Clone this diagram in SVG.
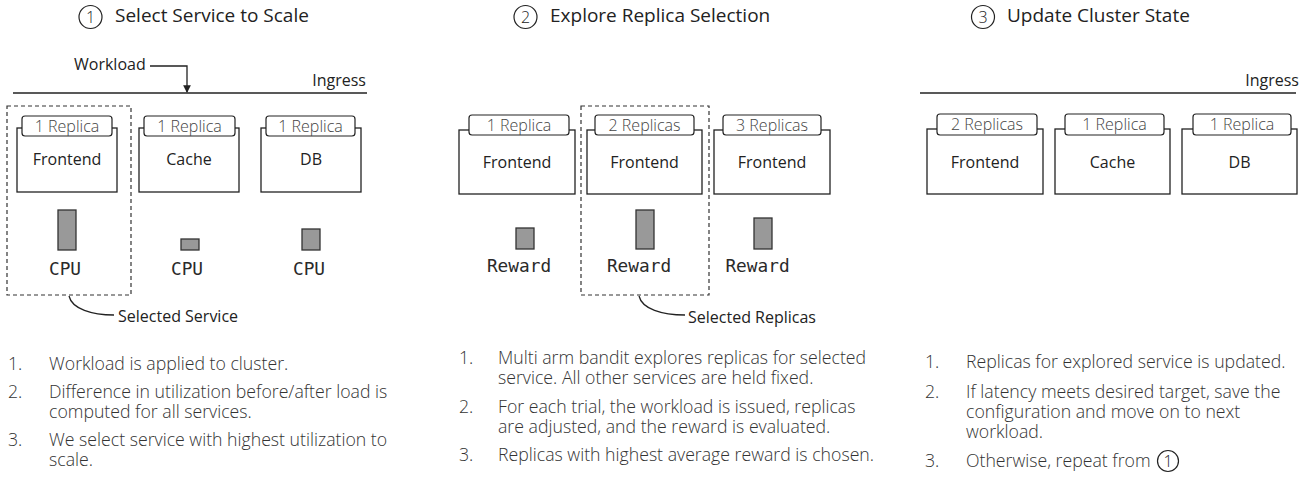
<svg xmlns="http://www.w3.org/2000/svg" width="1310" height="477" viewBox="0 0 1310 477">
<style>
.title{font-family:"Open Sans","Liberation Sans",sans-serif;font-size:19px;fill:#222}
.num{font-family:"Open Sans","Liberation Sans",sans-serif;font-size:16px;font-weight:300;fill:#222;text-anchor:middle}
.circ{fill:none;stroke:#222;stroke-width:1.2}
.body{fill:#fff;stroke:#222;stroke-width:1.3}
.tab{fill:#fff;stroke:#222;stroke-width:1.2}
.tabt{font-family:"Open Sans","Liberation Sans",sans-serif;font-size:16px;font-weight:300;fill:#444;text-anchor:middle}
.name{font-family:"Open Sans","Liberation Sans",sans-serif;font-size:16px;fill:#222;text-anchor:middle}
.bar{fill:#999;stroke:#333;stroke-width:1.3}
.mono{font-family:"DejaVu Sans Mono","Liberation Mono",monospace;font-size:17.8px;fill:#2a2a2a;text-anchor:middle}
.lbl{font-family:"Open Sans","Liberation Sans",sans-serif;font-size:16px;fill:#222}
.list{font-family:"Open Sans","Liberation Sans",sans-serif;font-size:17.7px;font-weight:300;fill:#333}
.dash{fill:none;stroke:#333;stroke-width:1.2;stroke-dasharray:4 3}
.line{fill:none;stroke:#222;stroke-width:1.3}
</style>
<defs>
<marker id="arr" viewBox="0 0 8 8" refX="7" refY="4" markerWidth="6" markerHeight="6" orient="auto">
<path d="M0,0 L8,4 L0,8 z" fill="#222"/>
</marker>
</defs>

<!-- Section 1 -->
<g id="title1">
<circle class="circ" cx="90.5" cy="17" r="11.5"/>
<text class="num" x="90.5" y="23">1</text>
<text class="title" x="115" y="22">Select Service to Scale</text>
</g>
<g id="ingress1">
<text class="lbl" x="366" y="86" text-anchor="end">Ingress</text>
<text class="lbl" x="74" y="70">Workload</text>
</g>
<g id="selected1">
<rect class="dash" x="7" y="106" width="124" height="189"/>
<text class="lbl" x="118" y="322">Selected Service</text>
</g>
<g id="s1-frontend">
<rect class="body" x="17" y="128" width="100" height="64"/>
<rect class="tab" x="22" y="116" width="90" height="20" rx="3"/>
<text class="tabt" x="67" y="131.5">1 Replica</text>
<text class="name" x="67" y="165">Frontend</text>
<rect class="bar" x="58" y="210" width="18" height="40"/>
<text class="mono" x="65" y="275">CPU</text>
</g>
<g id="s1-cache">
<rect class="body" x="139" y="128" width="100" height="64"/>
<rect class="tab" x="144" y="116" width="91" height="20" rx="3"/>
<text class="tabt" x="189.5" y="131.5">1 Replica</text>
<text class="name" x="189" y="165">Cache</text>
<rect class="bar" x="181" y="239" width="18" height="11"/>
<text class="mono" x="187" y="275">CPU</text>
</g>
<g id="s1-db">
<rect class="body" x="261" y="128" width="100" height="64"/>
<rect class="tab" x="266" y="116" width="89" height="20" rx="3"/>
<text class="tabt" x="310.5" y="131.5">1 Replica</text>
<text class="name" x="311" y="165">DB</text>
<rect class="bar" x="302" y="229" width="18" height="21"/>
<text class="mono" x="309" y="275">CPU</text>
</g>
<g id="list1">
<text class="list" x="8" y="370">1.</text>
<text class="list" x="49" y="370">Workload is applied to cluster.</text>
<text class="list" x="8" y="398">2.</text>
<text class="list"><tspan x="49" y="398">Difference in utilization before/after load is</tspan><tspan x="49" y="418">computed for all services.</tspan></text>
<text class="list" x="8" y="446">3.</text>
<text class="list"><tspan x="49" y="446">We select service with highest utilization to</tspan><tspan x="49" y="466">scale.</tspan></text>
</g>

<!-- Section 2 -->
<g id="title2">
<circle class="circ" cx="525.5" cy="17" r="11.5"/>
<text class="num" x="525.5" y="23">2</text>
<text class="title" x="550" y="22">Explore Replica Selection</text>
</g>
<g id="selected2">
<rect class="dash" x="581" y="106" width="128" height="189"/>
<text class="lbl" x="688" y="323">Selected Replicas</text>
</g>
<g id="s2-r1">
<rect class="body" x="459" y="130" width="116" height="64"/>
<rect class="tab" x="469" y="115" width="100" height="20" rx="3"/>
<text class="tabt" x="519" y="130.5">1 Replica</text>
<text class="name" x="517" y="168">Frontend</text>
<rect class="bar" x="516" y="228" width="18" height="21"/>
<text class="mono" x="519" y="272">Reward</text>
</g>
<g id="s2-r2">
<rect class="body" x="587" y="130" width="115" height="64"/>
<rect class="tab" x="595" y="115" width="99" height="20" rx="3"/>
<text class="tabt" x="644.5" y="130.5">2 Replicas</text>
<text class="name" x="644.5" y="168">Frontend</text>
<rect class="bar" x="636" y="210" width="18" height="39"/>
<text class="mono" x="639" y="272">Reward</text>
</g>
<g id="s2-r3">
<rect class="body" x="714" y="130" width="116" height="64"/>
<rect class="tab" x="723" y="115" width="98" height="20" rx="3"/>
<text class="tabt" x="772" y="130.5">3 Replicas</text>
<text class="name" x="772" y="168">Frontend</text>
<rect class="bar" x="754" y="218" width="18" height="31"/>
<text class="mono" x="757.5" y="272">Reward</text>
</g>
<g id="list2">
<text class="list" x="459" y="364">1.</text>
<text class="list"><tspan x="498" y="364">Multi arm bandit explores replicas for selected</tspan><tspan x="498" y="384">service. All other services are held fixed.</tspan></text>
<text class="list" x="459" y="413">2.</text>
<text class="list"><tspan x="498" y="413">For each trial, the workload is issued, replicas</tspan><tspan x="498" y="433">are adjusted, and the reward is evaluated.</tspan></text>
<text class="list" x="459" y="461">3.</text>
<text class="list" x="498" y="461">Replicas with highest average reward is chosen.</text>
</g>

<!-- Section 3 -->
<g id="title3">
<circle class="circ" cx="983" cy="17" r="11.5"/>
<text class="num" x="983" y="23">3</text>
<text class="title" x="1007" y="22">Update Cluster State</text>
</g>
<g id="ingress3">
<text class="lbl" x="1299" y="86" text-anchor="end">Ingress</text>
</g>
<g id="s3-frontend">
<rect class="body" x="927" y="129" width="116" height="65"/>
<rect class="tab" x="937" y="114" width="100" height="21" rx="3"/>
<text class="tabt" x="987" y="130">2 Replicas</text>
<text class="name" x="985" y="168">Frontend</text>
</g>
<g id="s3-cache">
<rect class="body" x="1055" y="129" width="115" height="65"/>
<rect class="tab" x="1065" y="114" width="99" height="21" rx="3"/>
<text class="tabt" x="1114.5" y="130">1 Replica</text>
<text class="name" x="1112.5" y="168">Cache</text>
</g>
<g id="s3-db">
<rect class="body" x="1182" y="129" width="115" height="65"/>
<rect class="tab" x="1193" y="114" width="98" height="21" rx="3"/>
<text class="tabt" x="1242" y="130">1 Replica</text>
<text class="name" x="1239.5" y="168">DB</text>
</g>
<g id="list3">
<text class="list" x="925" y="368">1.</text>
<text class="list" x="966" y="368">Replicas for explored service is updated.</text>
<text class="list" x="925" y="398">2.</text>
<text class="list"><tspan x="966" y="398">If latency meets desired target, save the</tspan><tspan x="966" y="418">configuration and move on to next</tspan><tspan x="966" y="438">workload.</tspan></text>
<text class="list" x="925" y="467">3.</text>
<text class="list" x="966" y="467">Otherwise, repeat from</text>
<circle class="circ" cx="1168" cy="461" r="10.5"/>
<text class="num" x="1168" y="467" style="font-size:16px">1</text>
</g>

<!-- Connectors -->
<g id="connectors">
<path class="line" d="M13,93 H367"/>
<path class="line" d="M150,66 H187 V92" marker-end="url(#arr)"/>
<path class="line" d="M69,296 C72,309 92,315 114,315"/>
<path class="line" d="M639,296 C642,309 662,315 685,315"/>
<path class="line" d="M920,93 H1296"/>
</g>
</svg>
